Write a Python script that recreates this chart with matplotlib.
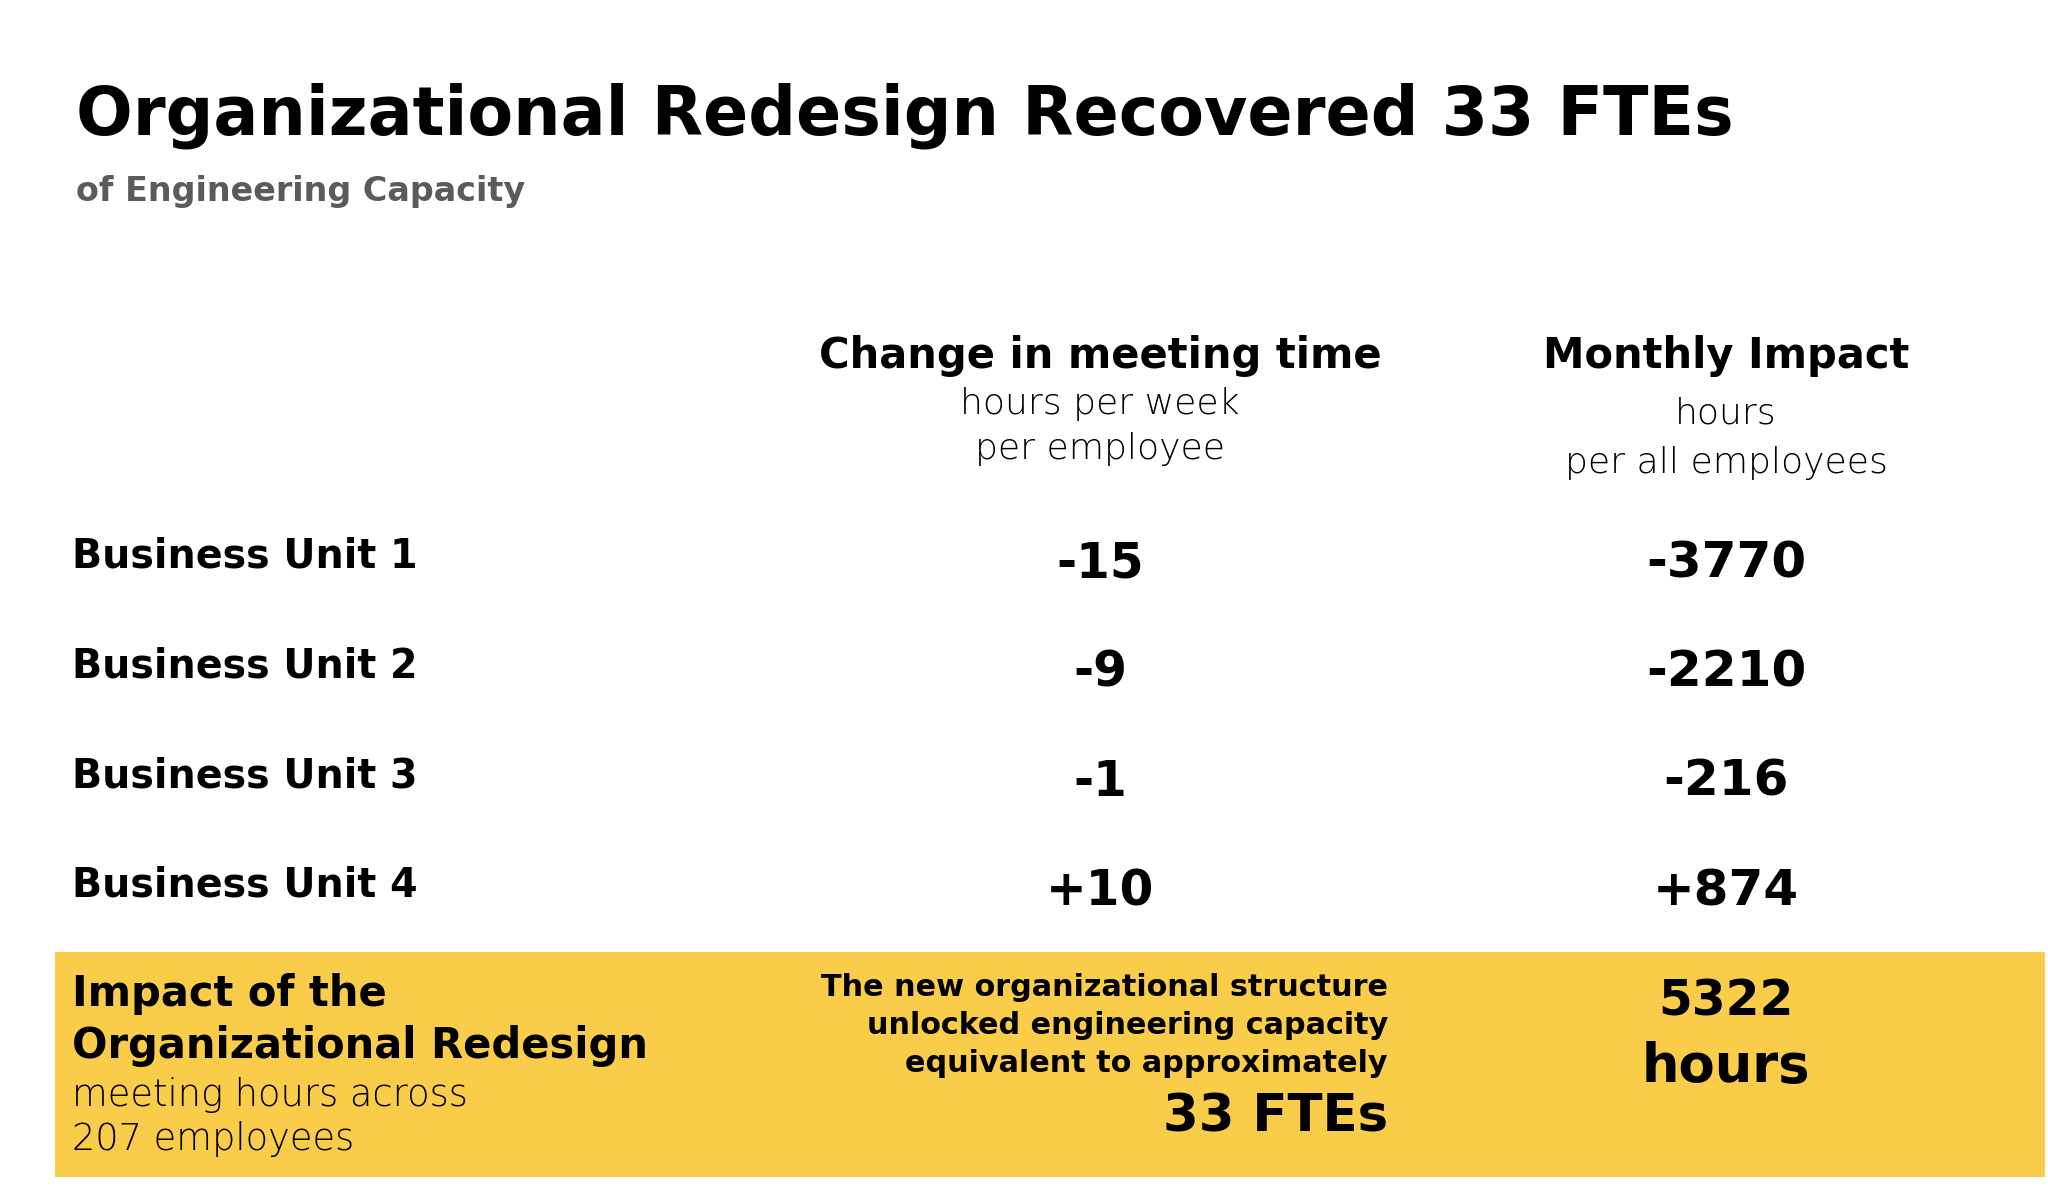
import matplotlib
matplotlib.use("Agg")
import matplotlib.pyplot as plt
from matplotlib.patches import Rectangle

# Table content
units = ["Business Unit 1", "Business Unit 2", "Business Unit 3", "Business Unit 4"]
change_hours = ["-15", "-9", "-1", "+10"]
monthly_hours = ["-3770", "-2210", "-216", "+874"]

col_titles = ["Change in meeting time", "Monthly Impact"]
col_subtitles = [["hours per week", "per employee"], ["hours", "per all employees"]]

total_hours = 5322
employees = 207
ftes = 33

W, H = 2048, 1198
fig = plt.figure(figsize=(W / 100, H / 100), dpi=100)
fig.patch.set_facecolor("white")

BOLD = dict(family="DejaVu Sans", weight="bold", color="black")
LIGHT = dict(family="DejaVu Sans", weight="light", color="black")


def px(x, y):
    return x / W, 1 - y / H


def put(x, y, s, size, style, ha="left", **kw):
    fig.text(*px(x, y), s, fontsize=size, ha=ha, va="center", **style, **kw)


# title
put(76, 116, f"Organizational Redesign Recovered {ftes} FTEs", 48, BOLD)
put(76, 192, "of Engineering Capacity", 24, dict(BOLD, color="#5b5b5b"))

# column headers
col_x = [1100, 1726]
sub_y = [[404, 449], [414, 463]]
for cx, title, subs, ys in zip(col_x, col_titles, col_subtitles, sub_y):
    put(cx, 356, title, 30, BOLD, ha="center")
    for s, yy in zip(subs, ys):
        put(cx, yy, s, 26, LIGHT, ha="center")

# rows
row_y0, row_step = 557, 109.5
for i, (u, c, m) in enumerate(zip(units, change_hours, monthly_hours)):
    y = row_y0 + i * row_step
    put(72, y, u, 28.5, BOLD)
    put(col_x[0], y + 6, c, 35, BOLD, ha="center")
    put(col_x[1], y + 6, m, 36, BOLD, ha="center")

# highlighted summary band
fig.patches.append(Rectangle(px(55, 1177), (2045 - 55) / W, (1177 - 952) / H,
                             transform=fig.transFigure, facecolor="#F9CC4A",
                             edgecolor="none", zorder=0))

put(72, 994, "Impact of the", 30, BOLD)
put(72, 1046, "Organizational Redesign", 30, BOLD)
put(72, 1095, "meeting hours across", 26.5, LIGHT)
put(72, 1139, f"{employees} employees", 26.5, LIGHT)

put(1388, 987, "The new organizational structure", 21.8, BOLD, ha="right")
put(1388, 1026, "unlocked engineering capacity", 21.8, BOLD, ha="right")
put(1388, 1063, "equivalent to approximately", 21.8, BOLD, ha="right")
put(1388, 1117, f"{ftes} FTEs", 37, BOLD, ha="right")

put(col_x[1], 1002, f"{total_hours}", 35, BOLD, ha="center")
put(col_x[1], 1067, "hours", 38, BOLD, ha="center")

fig.savefig("out.png", dpi=100, facecolor="white")
